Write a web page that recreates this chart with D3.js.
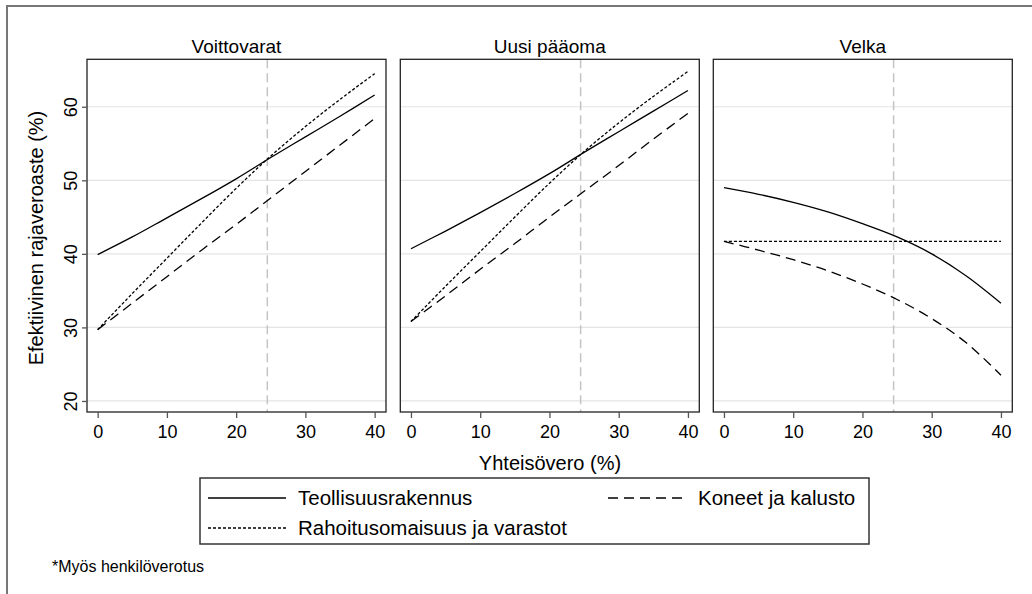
<!DOCTYPE html>
<html>
<head>
<meta charset="utf-8">
<script src="https://cdn.jsdelivr.net/npm/d3@7"></script>
<style>
  body { margin: 0; background: #fff; }
  text { font-family: "Liberation Sans", Arial, sans-serif; fill: #000; }
</style>
</head>
<body>
<div id="chart-area"></div>
<script>
// data
var panelTitles = ["Voittovarat", "Uusi pääoma", "Velka"];
var seriesNames = ["Teollisuusrakennus", "Rahoitusomaisuus ja varastot", "Koneet ja kalusto"];
var xTicks = [0, 10, 20, 30, 40];
var yTicks = [20, 30, 40, 50, 60];
var taxRates = [0, 5, 10, 15, 20, 25, 30, 35, 40];
var currentRate = 24.5;

var voittoTeol = [39.9, 42.3, 44.9, 47.5, 50.2, 53.1, 55.9, 58.7, 61.6];
var voittoRah  = [29.7, 34.6, 39.4, 44.2, 48.9, 53.3, 57.3, 61.0, 64.5];
var voittoKon  = [29.7, 33.3, 36.9, 40.5, 44.0, 47.6, 51.2, 54.8, 58.4];

var uusiTeol = [40.7, 43.1, 45.6, 48.2, 50.9, 53.8, 56.6, 59.4, 62.2];
var uusiRah  = [30.8, 35.6, 40.3, 45.0, 49.6, 53.9, 57.8, 61.4, 64.8];
var uusiKon  = [30.8, 34.3, 37.9, 41.4, 45.0, 48.5, 52.0, 55.6, 59.1];

var velkaTeol = [49.0, 48.1, 47.0, 45.7, 44.1, 42.3, 40.0, 37.0, 33.3];
var velkaRah  = [41.7, 41.7, 41.7, 41.7, 41.7, 41.7, 41.7, 41.7, 41.7];
var velkaKon  = [41.7, 40.5, 39.2, 37.7, 35.9, 33.8, 31.2, 27.9, 23.5];

var panelData = [
    [voittoTeol, voittoRah, voittoKon],
    [uusiTeol, uusiRah, uusiKon],
    [velkaTeol, velkaRah, velkaKon]
];
var dashes = [null, "3,2", "10,6"];

var width = 1032, height = 594;
var panelW = 299, panelTop = 59.3, panelBottom = 412;
var panelLefts = [87, 400.3, 713.3];

var svg = d3.select("#chart-area").append("svg")
    .attr("width", width)
    .attr("height", height);

svg.append("rect")
    .attr("width", width).attr("height", height)
    .attr("fill", "#fff");

// outer frame (cropped at right/bottom)
svg.append("path")
    .attr("d", "M7,600 V6 H1040")
    .attr("fill", "none")
    .attr("stroke", "#777")
    .attr("stroke-width", 2);

var y = d3.scaleLinear().domain([18.5, 66.45]).range([panelBottom, panelTop]);

var line = d3.line().curve(d3.curveCatmullRom.alpha(0.5));

panelTitles.forEach(function(title, p) {
    var left = panelLefts[p];
    var x = d3.scaleLinear().domain([-1.54, 41.64]).range([left, left + panelW]);
    var g = svg.append("g");

    // gridlines
    g.selectAll(".grid").data(yTicks).enter().append("line")
        .attr("x1", left).attr("x2", left + panelW)
        .attr("y1", function(d) { return y(d); })
        .attr("y2", function(d) { return y(d); })
        .attr("stroke", "#e4e4e4")
        .attr("stroke-width", 1.2);

    // reference line
    g.append("line")
        .attr("x1", x(currentRate)).attr("x2", x(currentRate))
        .attr("y1", panelTop).attr("y2", panelBottom)
        .attr("stroke", "#c4c4c4")
        .attr("stroke-width", 1.5)
        .attr("stroke-dasharray", "9,5");

    // series
    panelData[p].forEach(function(vals, s) {
        var pts = taxRates.map(function(t, i) { return [x(t), y(vals[i])]; });
        g.append("path")
            .attr("d", line(pts))
            .attr("fill", "none")
            .attr("stroke", "#000")
            .attr("stroke-width", 1.3)
            .attr("stroke-dasharray", dashes[s]);
    });

    // panel border
    g.append("rect")
        .attr("x", left).attr("y", panelTop)
        .attr("width", panelW).attr("height", panelBottom - panelTop)
        .attr("fill", "none")
        .attr("stroke", "#222")
        .attr("stroke-width", 1.3);

    // x axis
    var xAxis = d3.axisBottom(x).tickValues(xTicks).tickSize(6).tickPadding(7);
    var xg = g.append("g")
        .attr("transform", "translate(0," + panelBottom + ")")
        .call(xAxis);
    xg.select(".domain").remove();
    xg.selectAll(".tick line").attr("stroke", "#555").attr("stroke-width", 1.3);
    xg.selectAll("text")
        .attr("font-size", "18px")
        .attr("font-family", "Liberation Sans, Arial, sans-serif")
        .attr("fill", "#000");

    // y axis only on first panel
    if (p === 0) {
        var yAxis = d3.axisLeft(y).tickValues(yTicks).tickSize(5).tickPadding(8);
        var yg = g.append("g")
            .attr("transform", "translate(" + left + ",0)")
            .call(yAxis);
        yg.select(".domain").remove();
        yg.selectAll(".tick line").attr("stroke", "#555").attr("stroke-width", 1.3);
        yg.selectAll("text")
            .attr("font-size", "18px")
            .attr("font-family", "Liberation Sans, Arial, sans-serif")
            .attr("fill", "#000")
            .attr("transform", "rotate(-90,-16,0)")
            .attr("x", -16)
            .attr("dy", "0.35em")
            .attr("text-anchor", "middle");
    }

    // panel title
    svg.append("text")
        .attr("x", left + panelW / 2)
        .attr("y", 53)
        .attr("font-size", "19px")
        .attr("text-anchor", "middle")
        .text(title);
});

// axis titles
svg.append("text")
    .attr("x", 550)
    .attr("y", 470)
    .attr("font-size", "20px")
    .attr("text-anchor", "middle")
    .text("Yhteisövero (%)");

svg.append("text")
    .attr("transform", "translate(43,238) rotate(-90)")
    .attr("font-size", "20px")
    .attr("text-anchor", "middle")
    .text("Efektiivinen rajaveroaste (%)");

// legend
var legend = svg.append("g");
legend.append("rect")
    .attr("x", 200).attr("y", 478)
    .attr("width", 669).attr("height", 66)
    .attr("fill", "#fff")
    .attr("stroke", "#333")
    .attr("stroke-width", 1.5);

var legendPos = [[208, 498], [208, 528], [608, 498]];
seriesNames.forEach(function(name, s) {
    var lx = legendPos[s][0], ly = legendPos[s][1];
    legend.append("line")
        .attr("x1", lx).attr("x2", lx + 78)
        .attr("y1", ly).attr("y2", ly)
        .attr("stroke", "#000")
        .attr("stroke-width", 1.3)
        .attr("stroke-dasharray", dashes[s]);
    legend.append("text")
        .attr("x", lx + 90)
        .attr("y", ly)
        .attr("dy", "0.35em")
        .attr("font-size", "20.5px")
        .text(name);
});

// note
svg.append("text")
    .attr("x", 52)
    .attr("y", 572)
    .attr("font-size", "16px")
    .text("*Myös henkilöverotus");
</script>
</body>
</html>
